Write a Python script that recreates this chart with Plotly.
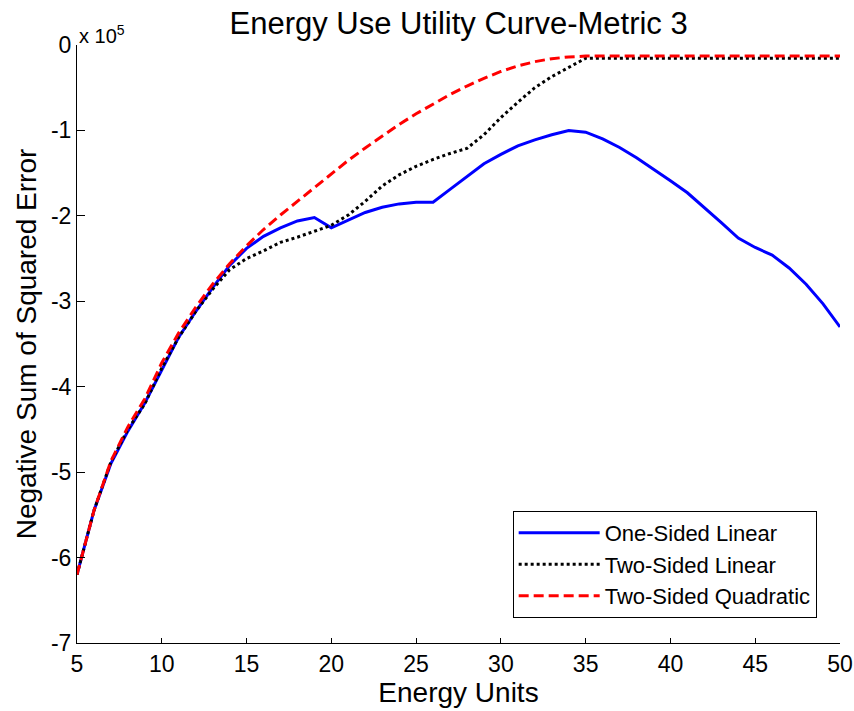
import plotly.graph_objects as go

SCALE = 1e5
energy_units = list(range(5, 51))

one_sided_linear = [
    -6.20, -5.45, -4.90, -4.52, -4.19, -3.80, -3.42, -3.12, -2.84, -2.58,
    -2.38, -2.24, -2.14, -2.06, -2.02, -2.14, -2.05, -1.96, -1.90, -1.86,
    -1.84, -1.84, -1.69, -1.54, -1.39, -1.28, -1.18, -1.11, -1.05, -1.00,
    -1.02, -1.10, -1.20, -1.32, -1.45, -1.59, -1.73, -1.90, -2.08, -2.26,
    -2.37, -2.46, -2.61, -2.80, -3.03, -3.30,
]
two_sided_linear = [
    -6.20, -5.45, -4.88, -4.50, -4.20, -3.78, -3.42, -3.12, -2.86, -2.63,
    -2.50, -2.41, -2.31, -2.25, -2.18, -2.11, -1.99, -1.83, -1.65, -1.52,
    -1.42, -1.34, -1.27, -1.21, -1.05, -0.85, -0.67, -0.50, -0.37, -0.26,
    -0.155, -0.155, -0.155, -0.155, -0.155, -0.155, -0.155, -0.155, -0.155, -0.155,
    -0.155, -0.155, -0.155, -0.155, -0.155, -0.155,
]
two_sided_quadratic = [
    -6.20, -5.45, -4.87, -4.47, -4.14, -3.72, -3.37, -3.07, -2.80, -2.56,
    -2.35, -2.16, -1.99, -1.83, -1.66, -1.50, -1.35, -1.205, -1.065, -0.93,
    -0.805, -0.69, -0.58, -0.48, -0.39, -0.31, -0.245, -0.195, -0.16, -0.14,
    -0.13, -0.13, -0.13, -0.13, -0.13, -0.13, -0.13, -0.13, -0.13, -0.13,
    -0.13, -0.13, -0.13, -0.13, -0.13, -0.13,
]

series_names = ["One-Sided Linear", "Two-Sided Linear", "Two-Sided Quadratic"]
x_ticks = [5, 10, 15, 20, 25, 30, 35, 40, 45, 50]
y_ticks = [-7, -6, -5, -4, -3, -2, -1, 0]

FONT = "Liberation Sans, Arial, sans-serif"

fig = go.Figure()
fig.add_trace(go.Scatter(
    x=energy_units, y=[v * SCALE for v in one_sided_linear], mode="lines",
    name=series_names[0], legendgroup="a", line=dict(color="#0000ff", width=3)))
fig.add_trace(go.Scatter(
    x=energy_units, y=[v * SCALE for v in two_sided_linear], mode="lines",
    name=series_names[1], legendgroup="b", line=dict(color="#000000", width=3, dash="3px,3px")))
fig.add_trace(go.Scatter(
    x=energy_units, y=[v * SCALE for v in two_sided_quadratic], mode="lines",
    name=series_names[2], legendgroup="c", line=dict(color="#ff0000", width=3, dash="10px,5px")))

fig.update_layout(
    width=854, height=711,
    margin=dict(l=77, r=14, t=45, b=68),
    paper_bgcolor="white", plot_bgcolor="white",
    font=dict(family=FONT, size=22, color="black"),
    title=dict(text="Energy Use Utility Curve-Metric 3", x=0.537, xanchor="center",
               y=0.968, yanchor="middle", font=dict(size=31, family=FONT)),
    showlegend=True,
    legend=dict(x=0.571, y=0.221, xanchor="left", yanchor="top",
                bgcolor="white", bordercolor="black", borderwidth=1,
                font=dict(size=22, family=FONT), tracegroupgap=0, itemwidth=81),
)
fig.update_xaxes(
    range=[5, 50], tickvals=x_ticks, ticktext=[str(t) for t in x_ticks],
    showline=True, linecolor="black", linewidth=1, mirror=False, automargin=False,
    ticks="inside", ticklen=5, tickcolor="black", showgrid=False, zeroline=False,
    tickfont=dict(size=23, family=FONT),
    title=dict(text="Energy Units", font=dict(size=28, family=FONT), standoff=2),
)
fig.update_yaxes(
    range=[-7 * SCALE, 0], tickvals=[t * SCALE for t in y_ticks],
    ticktext=[str(t) for t in y_ticks],
    showline=True, linecolor="black", linewidth=1, mirror=False, automargin=False,
    ticks="inside", ticklen=8, tickcolor="black", showgrid=False, zeroline=False,
    tickfont=dict(size=23, family=FONT),
    title=dict(text="Negative Sum of Squared Error", font=dict(size=28, family=FONT), standoff=6),
)
fig.add_annotation(
    xref="paper", yref="paper", x=0.0, y=1.0, xanchor="left", yanchor="bottom",
    text="x 10<sup>5</sup>", showarrow=False, font=dict(size=20, family=FONT),
    xshift=0, yshift=-4,
)

fig.write_html("out.html")
